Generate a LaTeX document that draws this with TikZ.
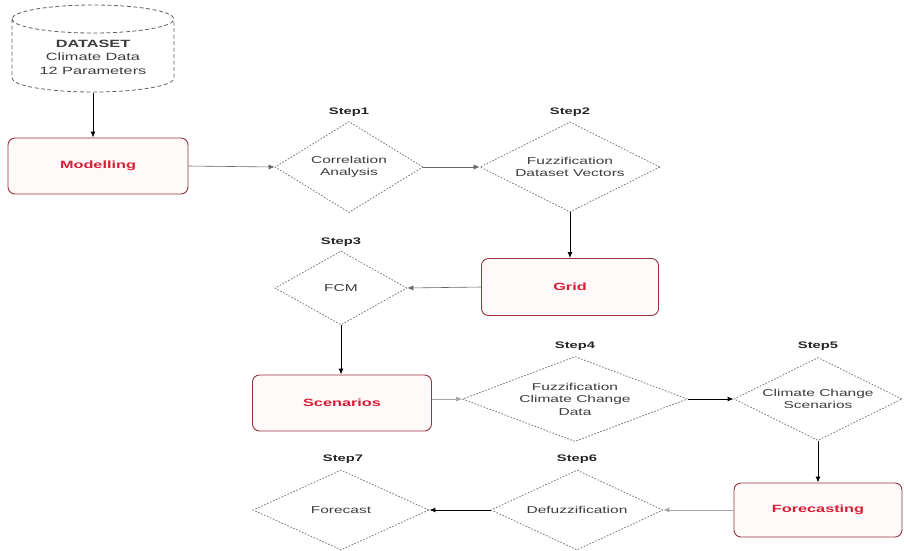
\documentclass[tikz,border=0pt]{standalone}
\usepackage{fontspec}
\setmainfont{Liberation Sans}[FakeStretch=1.55]
\usetikzlibrary{shapes.geometric,arrows.meta}
\definecolor{boxline}{RGB}{150,50,65}
\definecolor{boxtext}{RGB}{215,30,55}
\definecolor{boxfill}{RGB}{255,250,250}
\definecolor{dline}{RGB}{120,120,120}
\definecolor{dtext}{RGB}{60,60,60}
\tikzset{
  procbox/.style={draw=boxline, fill=boxfill, line width=0.9pt, rounded corners=7pt,
    text=boxtext, font=\fontsize{10.5}{13}\selectfont\bfseries, inner sep=0pt},
  decide/.style={diamond, draw=dline, dash pattern=on 1.6pt off 1.6pt, line width=0.8pt,
    inner sep=0pt, text=dtext, align=center, font=\fontsize{10}{12.5}\selectfont},
  steplbl/.style={font=\fontsize{9.5}{11}\selectfont\bfseries, text=black!85},
  mainarrow/.style={draw=black, line width=0.9pt, -{Latex[length=6pt,width=5pt]}},
  thinarrow/.style={draw=black!60, line width=0.6pt, -{Latex[length=6pt,width=5pt]}},
}
\begin{document}
\begin{tikzpicture}[x=1pt,y=-1pt]
\useasboundingbox (0,0) rectangle (904,550);
% dataset cylinder
\draw[dline!80!black, dash pattern=on 4pt off 2.5pt, line width=0.8pt]
  (12,19) arc[start angle=180, end angle=-180, x radius=81, y radius=14]
  (12,19) -- (12,78) arc[start angle=180, end angle=0, x radius=81, y radius=14] -- (174,19);
\node[inner sep=0pt, minimum width=162pt, minimum height=87pt] (dataset) at (93,49) {};
\node[inner sep=0pt, align=center, font=\fontsize{10.5}{13.5}\selectfont, text=dtext] (dstext) at (93,57)
  {\textbf{DATASET}\\Climate Data\\12 Parameters};
% boxes
\node[procbox, minimum width=180pt, minimum height=56pt] (model) at (98,166) {Modelling};
\node[procbox, minimum width=177pt, minimum height=57pt] (grid) at (570,287) {Grid};
\node[procbox, minimum width=179pt, minimum height=56pt] (scen) at (342,403) {Scenarios};
\node[procbox, minimum width=168pt, minimum height=54pt] (fore) at (818,510) {Forecasting};
% diamonds
\node[decide, minimum width=148pt, minimum height=91pt, aspect=1.63] (s1) at (349,167) {Correlation\\Analysis};
\node[decide, minimum width=180pt, minimum height=90pt, aspect=2] (s2) at (570,167) {Fuzzification\\Dataset Vectors};
\node[decide, minimum width=132pt, minimum height=74pt, aspect=1.78] (s3) at (341,288) {FCM};
\node[decide, minimum width=225pt, minimum height=85pt, aspect=2.65] (s4) at (575,399) {Fuzzification\\Climate Change\\Data};
\node[decide, minimum width=168pt, minimum height=83pt, aspect=2.02] (s5) at (818,399) {Climate Change\\Scenarios};
\node[decide, minimum width=172pt, minimum height=80pt, aspect=2.15] (s6) at (577,510) {Defuzzification};
\node[decide, minimum width=176pt, minimum height=80pt, aspect=2.2] (s7) at (341,510) {Forecast};
% step labels
\node[steplbl] (l1) at (349,112) {Step1};
\node[steplbl] (l2) at (570,112) {Step2};
\node[steplbl] (l3) at (341,242) {Step3};
\node[steplbl] (l4) at (575,346) {Step4};
\node[steplbl] (l5) at (818,346) {Step5};
\node[steplbl] (l6) at (577,459) {Step6};
\node[steplbl] (l7) at (343,459) {Step7};
% connectors
\draw[mainarrow] (dataset.south) -- (dataset.south |- model.north);
\draw[thinarrow] (model.east) -- (s1.west);
\draw[thinarrow] (s1.east) -- (s2.west);
\draw[mainarrow] (s2.south) -- (grid.north);
\draw[thinarrow] (grid.west) -- (s3.east);
\draw[mainarrow] (s3.south) -- (s3.south |- scen.north);
\draw[thinarrow, draw=black!35] (scen.east |- s4.west) -- (s4.west);
\draw[mainarrow] (s4.east) -- (s5.west);
\draw[mainarrow] (s5.south) -- (fore.north);
\draw[thinarrow, draw=black!35] (fore.west) -- (s6.east);
\draw[mainarrow] (s6.west) -- (s7.east);
\end{tikzpicture}
\end{document}
